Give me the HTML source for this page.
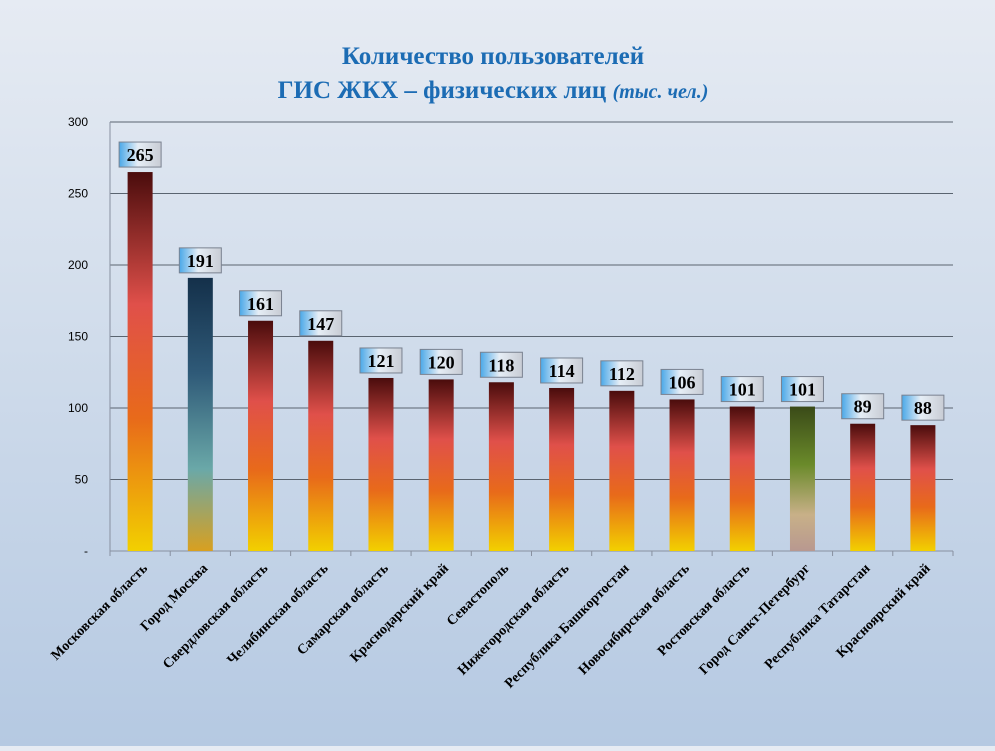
<!DOCTYPE html>
<html><head><meta charset="utf-8"><style>
body{margin:0;width:995px;height:746px;overflow:hidden;background:linear-gradient(#e6ebf3 0%,#d3deec 40%,#b5c9e2 100%);font-family:"Liberation Serif",serif}
</style></head><body>
<svg width="995" height="746">
<defs>
<linearGradient id="gOr" x1="0" y1="0" x2="0" y2="1">
<stop offset="0" stop-color="#4a0c0c"/><stop offset="0.35" stop-color="#e0504a"/><stop offset="0.65" stop-color="#e86a1a"/><stop offset="1" stop-color="#f2d000"/></linearGradient>
<linearGradient id="gBl" x1="0" y1="0" x2="0" y2="1">
<stop offset="0" stop-color="#14304a"/><stop offset="0.35" stop-color="#2f5a78"/><stop offset="0.7" stop-color="#6aa8a8"/><stop offset="1" stop-color="#d8a020"/></linearGradient>
<linearGradient id="gGr" x1="0" y1="0" x2="0" y2="1">
<stop offset="0" stop-color="#3a4a18"/><stop offset="0.4" stop-color="#6a8a2a"/><stop offset="0.75" stop-color="#c8b088"/><stop offset="1" stop-color="#b89890"/></linearGradient>
<linearGradient id="gLb" x1="0" y1="0" x2="1" y2="0">
<stop offset="0" stop-color="#4aa8e8"/><stop offset="0.45" stop-color="#e6eef6"/><stop offset="1" stop-color="#c8ccd4"/></linearGradient>
</defs>
<text x="493" y="64" text-anchor="middle" font-size="25" font-weight="bold" fill="#1c6cb4">Количество пользователей</text>
<text x="493" y="98" text-anchor="middle" font-size="25" font-weight="bold" fill="#1c6cb4">ГИС ЖКХ – физических лиц <tspan font-style="italic" font-size="20">(тыс. чел.)</tspan></text>
<g id="grid"></g><g id="bars"></g>
</svg>
<script>
const categories=["Московская область","Город Москва","Свердловская область","Челябинская область","Самарская область","Краснодарский край","Севастополь","Нижегородская область","Республика Башкортостан","Новосибирская область","Ростовская область","Город Санкт-Петербург","Республика Татарстан","Красноярский край"];
const values=[265,191,161,147,121,120,118,114,112,106,101,101,89,88];
const tickValues=[0,50,100,150,200,250,300];
const tickLabels=["-","50","100","150","200","250","300"];
const fills=["gOr","gBl","gOr","gOr","gOr","gOr","gOr","gOr","gOr","gOr","gOr","gGr","gOr","gOr"];
const NS="http://www.w3.org/2000/svg";
const x0=110,x1=953,y0=551,y1=122,yMax=300;
const yS=v=>y0-(y0-y1)*v/yMax;
const band=(x1-x0)/categories.length;
const xS=i=>x0+band*(i+0.5);
function mk(t,a,p){const e=document.createElementNS(NS,t);for(const k in a)e.setAttribute(k,a[k]);p.appendChild(e);return e;}
const grid=document.getElementById('grid'),bars=document.getElementById('bars');
tickValues.forEach((v,i)=>{
 const l=mk('line',{x1:x0,x2:x1,y1:yS(v),y2:yS(v),stroke:i?'#5a6470':'#8890a0','stroke-width':1},grid);
 
 
 const t=mk('text',{x:88,y:yS(v)+4,'text-anchor':'end','font-size':12,'font-family':'Liberation Sans, sans-serif',fill:'#000'},grid);
 t.textContent=tickLabels[i];
 
 
});
const ax=mk('line',{x1:x0,x2:x0,y1:y1,y2:y0,stroke:'#8890a0'},grid);


for(let i=0;i<=categories.length;i++){
 const tk=mk('line',{x1:x0+band*i,x2:x0+band*i,y1:y0,y2:y0+5,stroke:'#8890a0'},grid);
 
 
}
values.forEach((v,i)=>{
 const cx=xS(i),w=25;
 const r=mk('rect',{x:cx-w/2,y:yS(v),width:w,height:y0-yS(v),fill:'url(#'+fills[i]+')'},bars);
 
 
 const by=yS(v)-30;
 const b=mk('rect',{x:cx-21,y:by,width:42,height:25,fill:'url(#gLb)',stroke:'#7a8290','stroke-width':1},bars);
 
 
 const t=mk('text',{x:cx,y:by+19,'text-anchor':'middle','font-size':18,'font-weight':'bold',fill:'#000'},bars);
 t.textContent=v;
 
 
 const lx=cx+8,ly=y0+18;
 const c=mk('text',{x:lx,y:ly,'text-anchor':'end','font-size':14,'font-weight':'bold',fill:'#000',transform:'rotate(-45 '+lx+' '+ly+')'},bars);
 c.textContent=categories[i];
 
 
});
</script>
</body></html>
